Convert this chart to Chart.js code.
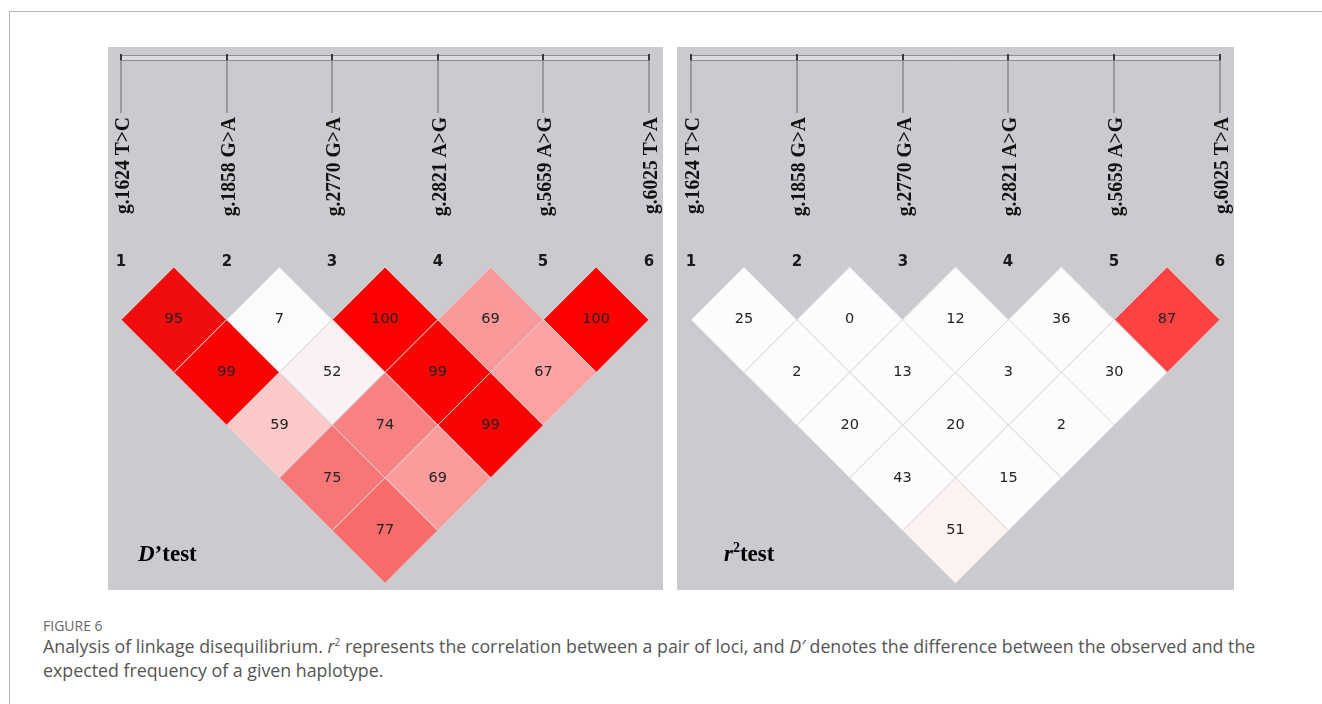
<!DOCTYPE html>
<html>
<head>
<meta charset="utf-8">
<script src="https://cdn.jsdelivr.net/npm/chart.js@4.4.0/dist/chart.umd.min.js"></script>
<style>
  body { margin: 0; background: #fff; width: 1322px; height: 704px; overflow: hidden; position: relative; font-family: 'Open Sans', sans-serif; }
  .frame { position: absolute; left: 9px; top: 11px; right: 0; bottom: -2px; border-left: 1px solid #b4b4b4; border-top: 1px solid #b4b4b4; }
  .panel { position: absolute; top: 47px; background: #cbcacf; }
  #dprime { left: 108px; }
  #rsq { left: 677px; }
  .fig-label { position: absolute; left: 43px; top: 616px; font-size: 14px; color: #666; }
  .caption { position: absolute; left: 43px; top: 630px; width: 1250px; font-size: 17.8px; line-height: 24px; color: #555; }
</style>
</head>
<body>
<div class="frame"></div>
<canvas id="dprime" class="panel" width="555" height="543"></canvas>
<canvas id="rsq" class="panel" width="557" height="543"></canvas>
<div class="fig-label">FIGURE 6</div>
<div class="caption">Analysis of linkage disequilibrium. <i>r</i><sup style="font-size:10px">2</sup> represents the correlation between a pair of loci, and <i>D′</i> denotes the difference between the observed and the expected frequency of a given haplotype.</div>

<script>
// markers
const markerNumbers = [1, 2, 3, 4, 5, 6];
const markerNames = ['g.1624 T>C', 'g.1858 G>A', 'g.2770 G>A', 'g.2821 A>G', 'g.5659 A>G', 'g.6025 T>A'];

// marker pairs, row by row (adjacent pairs first)
const pairFirst  = [1, 2, 3, 4, 5,  1, 2, 3, 4,  1, 2, 3,  1, 2,  1];
const pairSecond = [2, 3, 4, 5, 6,  3, 4, 5, 6,  4, 5, 6,  5, 6,  6];

// D' and r2 values (x100) for each pair
const dprimeValues = [95, 7, 100, 69, 100,  99, 52, 99, 67,  59, 74, 99,  75, 69,  77];
const rsqValues    = [25, 0, 12, 36, 87,    2, 13, 3, 30,    20, 20, 2,   43, 15,  51];

// cell shading as in the figure
const dprimeColors = ['#f00d0d', '#fbfbfb', '#ff0000', '#f99999', '#ff0000',
                      '#fc0303', '#f9f1f3', '#fc0303', '#fba3a3',
                      '#fcc9c9', '#f88282', '#fc0303',
                      '#f77777', '#fa9c9c',
                      '#f76b6b'];
const rsqColors = ['#fcfcfc', '#fcfcfc', '#fcfcfc', '#fcfcfc', '#fd4242',
                   '#fcfcfc', '#fcfcfc', '#fcfcfc', '#fcfcfc',
                   '#fcfcfc', '#fcfcfc', '#fcfcfc',
                   '#fcfcfc', '#fcfcfc',
                   '#fcf3f1'];

function halfStep(chart) {
    const x = chart.scales.x;
    if (!x) return 50;
    return Math.abs(x.getPixelForValue(1.5) - x.getPixelForValue(1));
}

// draws marker bar, names, numbers, cell values and the panel title
const ldDecor = {
    id: 'ldDecor',
    afterDatasetsDraw(chart, args, opts) {
        const ctx = chart.ctx;
        const xs = chart.scales.x;
        const ys = chart.scales.y;
        const x0 = xs.getPixelForValue(markerNumbers[0]);
        const x1 = xs.getPixelForValue(markerNumbers[markerNumbers.length - 1]);

        ctx.save();
        // top bar
        ctx.fillStyle = '#dcdcde';
        ctx.fillRect(x0, 8, x1 - x0, 5);
        ctx.strokeStyle = '#8e8e90';
        ctx.lineWidth = 1;
        ctx.beginPath();
        ctx.moveTo(x0, 8.5); ctx.lineTo(x1, 8.5);
        ctx.moveTo(x0, 13.5); ctx.lineTo(x1, 13.5);
        ctx.stroke();

        markerNumbers.forEach((m, i) => {
            const px = Math.round(xs.getPixelForValue(m));
            // tick
            ctx.fillStyle = '#3a3a3a';
            ctx.fillRect(px - 1, 7, 2, 7);
            // line down
            ctx.strokeStyle = '#8a8a8c';
            ctx.lineWidth = 1.5;
            ctx.beginPath();
            ctx.moveTo(px, 13); ctx.lineTo(px, 66);
            ctx.stroke();
            // name
            ctx.save();
            ctx.translate(px + 2, 70);
            ctx.rotate(-Math.PI / 2);
            ctx.scale(0.89, 1);
            ctx.fillStyle = '#111';
            ctx.font = 'bold 22px "Liberation Serif", "Times New Roman", serif';
            ctx.textAlign = 'right';
            ctx.textBaseline = 'middle';
            ctx.fillText(markerNames[i], 0, 0);
            ctx.restore();
            // number
            ctx.fillStyle = '#1a1a1a';
            ctx.font = 'bold 15px "DejaVu Sans", sans-serif';
            ctx.textAlign = 'center';
            ctx.textBaseline = 'middle';
            ctx.fillText(String(m), px, 215);
        });

        // cell values
        ctx.fillStyle = '#222';
        ctx.font = '14.5px "DejaVu Sans", sans-serif';
        ctx.textAlign = 'center';
        ctx.textBaseline = 'middle';
        chart.data.datasets[0].data.forEach(p => {
            ctx.fillText(String(p.v), xs.getPixelForValue(p.x), ys.getPixelForValue(p.y));
        });

        // title
        let tx = opts.titleX;
        const ty = 514;
        ctx.textAlign = 'left';
        ctx.textBaseline = 'alphabetic';
        ctx.fillStyle = '#000';
        (opts.title || []).forEach(part => {
            ctx.font = part.font;
            ctx.fillText(part.text, tx, ty + (part.dy || 0));
            tx += ctx.measureText(part.text).width + (part.gap || 0);
        });
        ctx.restore();
    }
};

function makeChart(id, values, colors, title, titleX, padLeft, padRight) {
    return new Chart(document.getElementById(id), {
        type: 'scatter',
        data: {
            datasets: [{
                data: pairFirst.map((a, k) => ({ x: (a + pairSecond[k]) / 2, y: pairSecond[k] - a, v: values[k] })),
                pointStyle: 'rectRot',
                pointRadius: c => halfStep(c.chart),
                pointHoverRadius: c => halfStep(c.chart),
                backgroundColor: colors,
                borderColor: '#d6d6d8',
                borderWidth: 1,
                clip: false
            }]
        },
        options: {
            responsive: false,
            animation: false,
            events: [],
            layout: { padding: { left: padLeft, right: padRight, top: 220, bottom: 33 } },
            scales: {
                x: { type: 'linear', min: 1, max: 6, display: false },
                y: { type: 'linear', min: 0, max: 5.5, reverse: true, display: false }
            },
            plugins: {
                legend: { display: false },
                tooltip: { enabled: false },
                ldDecor: { title: title, titleX: titleX }
            }
        },
        plugins: [ldDecor]
    });
}

const serif = '"Liberation Serif", "Times New Roman", serif';

makeChart('dprime', dprimeValues, dprimeColors, [
    { text: 'D', font: 'italic bold 23px ' + serif },
    { text: '’test', font: 'bold 23px ' + serif }
], 30, 13, 14);

makeChart('rsq', rsqValues, rsqColors, [
    { text: 'r', font: 'italic bold 23px ' + serif },
    { text: '2', font: 'bold 14px ' + serif, dy: -9 },
    { text: 'test', font: 'bold 23px ' + serif }
], 47, 14, 14);
</script>
</body>
</html>
